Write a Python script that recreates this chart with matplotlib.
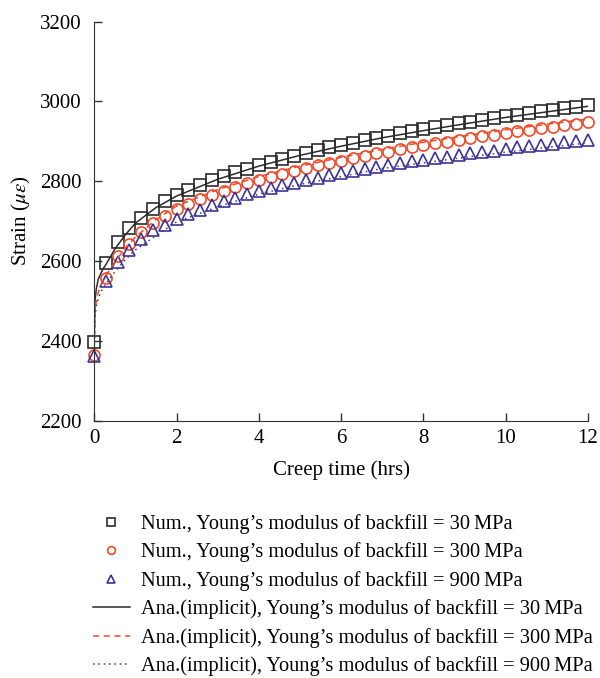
import matplotlib
matplotlib.use('Agg')
import matplotlib.pyplot as plt
import numpy as np

plt.rcParams['font.family'] = 'Liberation Serif'
plt.rcParams['mathtext.fontset'] = 'stix'
plt.rcParams['font.size'] = 15

# numerical results, one marker every 12/42 hrs
t_num = np.linspace(0, 12, 43)
num_30 = [2396, 2595, 2647, 2682, 2708, 2731, 2751, 2766, 2779, 2791, 2803, 2813, 2823, 2832,
          2841, 2849, 2857, 2864, 2871, 2878, 2885, 2891, 2897, 2903, 2909, 2914, 2920, 2925,
          2930, 2935, 2940, 2945, 2949, 2954, 2958, 2963, 2967, 2971, 2975, 2979, 2983, 2987, 2991]
num_300 = [2365, 2557, 2612, 2644, 2672, 2695, 2712, 2730, 2743, 2755, 2766, 2776, 2786, 2795,
           2804, 2811, 2819, 2826, 2833, 2840, 2846, 2852, 2858, 2864, 2870, 2874, 2880, 2885,
           2890, 2895, 2899, 2904, 2908, 2913, 2917, 2921, 2925, 2929, 2933, 2937, 2940, 2944, 2948]
num_900 = [2363, 2549, 2598, 2629, 2655, 2677, 2691, 2706, 2718, 2729, 2741, 2750, 2759, 2767,
           2776, 2783, 2790, 2796, 2803, 2809, 2815, 2820, 2825, 2831, 2836, 2840, 2845, 2850,
           2854, 2858, 2862, 2866, 2870, 2874, 2877, 2881, 2885, 2888, 2891, 2894, 2898, 2901, 2904]

# analytical (implicit) solutions
t_ana = [0, 0.02, 0.05, 0.1, 0.2, 0.3, 0.5, 0.75, 1, 1.5, 2, 3, 4, 5, 6, 7, 8, 9, 10, 11, 12]
ana_30 = [2400, 2500, 2530, 2555, 2578, 2594, 2630, 2665, 2695, 2734, 2763, 2805, 2838, 2865,
          2888, 2909, 2927, 2944, 2960, 2974, 2988]
ana_300 = [2380, 2470, 2500, 2523, 2548, 2566, 2598, 2632, 2660, 2704, 2738, 2779, 2812, 2838,
           2860, 2880, 2898, 2914, 2929, 2943, 2956]
ana_900 = [2380, 2458, 2487, 2508, 2530, 2545, 2573, 2603, 2628, 2664, 2698, 2736, 2768, 2792,
           2812, 2832, 2846, 2860, 2873, 2885, 2896]

c_blk = '#2b2b2b'
c_red = '#f04a2a'
c_blu = '#3b3594'

fig = plt.figure(figsize=(6, 6.78), dpi=100)
ax = fig.add_axes([0.157, 0.3795, 0.823, 0.5885])

h1, = ax.plot(t_num, num_30, ls='none', marker='s', ms=8, mfc='none', mec=c_blk, mew=1.2)
h2, = ax.plot(t_num, num_300, ls='none', marker='o', ms=8, mfc='none', mec=c_red, mew=1.2)
h3, = ax.plot(t_num, num_900, ls='none', marker='^', ms=9, mfc='none', mec=c_blu, mew=1.2)
h4, = ax.plot(t_ana, ana_30, '-', color=c_blk, lw=1.1)
h5, = ax.plot(t_ana, ana_300, '--', color=c_red, lw=1.1, dashes=(4, 3))
h6, = ax.plot(t_ana, ana_900, ':', color=c_blu, lw=1.1, dashes=(1, 2.5))

ax.set_xlim(0, 12)
ax.set_ylim(2200, 3200)
ax.set_xticks(np.arange(0, 13, 2))
ax.set_yticks(np.arange(2200, 3201, 200))
ax.spines['top'].set_visible(False)
ax.spines['right'].set_visible(False)
for s in ('left', 'bottom'):
    ax.spines[s].set_color('#333333')
ax.tick_params(direction='in', length=6, width=1, color='#333333')
ax.tick_params(axis='y', pad=9)
ax.tick_params(axis='x', pad=6)
ax.set_xlabel('Creep time (hrs)', labelpad=9)
ax.set_ylabel(r'Strain ($\mu\varepsilon$)', labelpad=5)
for h in (h1, h2, h3):
    h.set_clip_on(False)

labels = ['Num., Young\u2019s modulus of backfill = 30\u2009MPa',
          'Num., Young\u2019s modulus of backfill = 300\u2009MPa',
          'Num., Young\u2019s modulus of backfill = 900\u2009MPa',
          'Ana.(implicit), Young\u2019s modulus of backfill = 30\u2009MPa',
          'Ana.(implicit), Young\u2019s modulus of backfill = 300\u2009MPa',
          'Ana.(implicit), Young\u2019s modulus of backfill = 900\u2009MPa']
fig.legend([h1, h2, h3, h4, h5, h6], labels, loc='upper left',
           bbox_to_anchor=(0.155, 0.242), frameon=False, borderpad=0,
           borderaxespad=0, handlelength=1.8, handletextpad=0.55,
           labelspacing=0.42, markerscale=0.7, fontsize=14.7)

fig.savefig('out.png', dpi=100)
